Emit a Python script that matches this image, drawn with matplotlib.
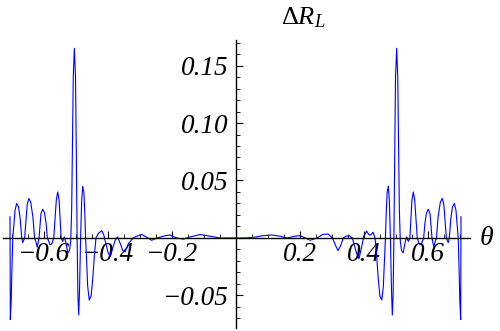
import numpy as np
import matplotlib
matplotlib.use('Agg')
import matplotlib.pyplot as plt
from matplotlib.ticker import MultipleLocator

# curve, left half (theta < 0)
theta_left = [-0.7047, -0.7037, -0.701, -0.699, -0.696, -0.693, -0.689, -0.684, -0.678, -0.673,
              -0.668, -0.665, -0.659, -0.655, -0.651, -0.646, -0.640, -0.633, -0.628, -0.624,
              -0.6197, -0.614, -0.611, -0.608, -0.6025, -0.597, -0.592, -0.588, -0.585, -0.5797,
              -0.574, -0.568, -0.564, -0.560, -0.5556, -0.551, -0.548, -0.545, -0.540, -0.535,
              -0.530, -0.524, -0.519, -0.515, -0.512, -0.5095, -0.507, -0.5037, -0.500, -0.4975,
              -0.495, -0.4925, -0.490, -0.4874, -0.4841, -0.4808, -0.4775, -0.474, -0.471, -0.4685,
              -0.466, -0.462, -0.457, -0.451, -0.446, -0.441, -0.436,
              -0.4287, -0.418, -0.412, -0.405, -0.398, -0.392, -0.385, -0.376,
              -0.368, -0.360, -0.352, -0.345, -0.335, -0.320, -0.305, -0.293, -0.280, -0.262,
              -0.245, -0.220, -0.205, -0.185, -0.163, -0.140, -0.111, -0.080, -0.048, -0.020]
dR_left = [0.0185, -0.071, -0.055, -0.030, 0.0, 0.010, 0.024, 0.030, 0.027, 0.017,
           0.0, -0.004, 0.0, 0.015, 0.029, 0.0345, 0.031, 0.018, 0.0, -0.003,
           -0.008, 0.0, 0.011, 0.021, 0.025, 0.022, 0.013, 0.0, -0.002, -0.006,
           -0.005, 0.0, 0.016, 0.033, 0.040, 0.032, 0.016, 0.0, -0.003, 0.001,
           -0.004, -0.013, -0.011, -0.003, 0.025, 0.080, 0.140, 0.165, 0.140, 0.075,
           0.0, -0.050, -0.067, -0.045, 0.0, 0.032, 0.045, 0.040, 0.022, 0.0,
           -0.015, -0.042, -0.054, -0.050, -0.035, -0.015, 0.0,
           0.004, 0.0063, 0.003, -0.005, -0.013, -0.016, -0.010, -0.002,
           0.001, -0.005, -0.011, -0.012, -0.005, 0.0, 0.002, 0.003, 0.001, -0.002,
           0.0, 0.002, 0.0026, 0.0, -0.001, 0.001, 0.003, 0.0015, 0.0, 0.0]

# right half (theta >= 0)
theta_right = [0.000, 0.030, 0.055, 0.085, 0.114, 0.140, 0.161, 0.185, 0.202, 0.218,
               0.233, 0.255, 0.272, 0.289, 0.303, 0.312, 0.320, 0.328, 0.337, 0.345,
               0.355, 0.365, 0.378, 0.386, 0.394, 0.401, 0.410, 0.416, 0.4225, 0.430,
               0.436, 0.441, 0.446, 0.451, 0.457, 0.462, 0.466, 0.4685, 0.471, 0.474,
               0.4775, 0.4808, 0.4841, 0.4874, 0.490, 0.4925, 0.495, 0.4975, 0.500, 0.5037,
               0.507, 0.5095, 0.512, 0.515, 0.519, 0.524, 0.530, 0.535, 0.540, 0.545,
               0.548, 0.551, 0.5556, 0.560, 0.564, 0.568, 0.574, 0.5797, 0.585, 0.588,
               0.592, 0.597, 0.6025, 0.608, 0.611, 0.614, 0.6197, 0.624, 0.628, 0.633,
               0.640, 0.646, 0.651, 0.655, 0.659, 0.665, 0.668, 0.673, 0.678, 0.684,
               0.689, 0.693, 0.696, 0.699, 0.701, 0.7037, 0.7047]
dR_right = [0.0, 0.0, 0.0005, 0.002, 0.0026, 0.0015, 0.0, 0.0015, 0.002, 0.0,
            -0.002, 0.0, 0.003, 0.0035, 0.0, -0.006, -0.011, -0.007, 0.0, 0.0015,
            0.002, 0.0, -0.013, -0.018, -0.008, 0.002, 0.006, 0.003, 0.0025, 0.005,
            0.0, -0.015, -0.035, -0.050, -0.054, -0.042, -0.015, 0.0, 0.022, 0.040,
            0.045, 0.032, 0.0, -0.045, -0.067, -0.050, 0.0, 0.075, 0.140, 0.165,
            0.140, 0.080, 0.025, -0.003, -0.011, -0.013, -0.004, 0.001, -0.003, 0.0,
            0.016, 0.032, 0.040, 0.033, 0.016, 0.0, -0.005, -0.006, -0.002, 0.0,
            0.013, 0.022, 0.025, 0.021, 0.011, 0.0, -0.008, -0.003, 0.0, 0.018,
            0.031, 0.0345, 0.029, 0.015, 0.0, -0.004, 0.0, 0.017, 0.027, 0.030,
            0.024, 0.010, 0.0, -0.030, -0.055, -0.071, 0.0185]

xticks = [-0.6, -0.4, -0.2, 0.2, 0.4, 0.6]
xticklabels = ['\u22120.6', '\u22120.4', '\u22120.2', '0.2', '0.4', '0.6']
yticks = [-0.05, 0.05, 0.10, 0.15]
yticklabels = ['\u22120.05', '0.05', '0.10', '0.15']

plt.rcParams['mathtext.fontset'] = 'custom'
plt.rcParams['mathtext.rm'] = 'Liberation Serif'
plt.rcParams['mathtext.it'] = 'Liberation Serif:italic'

fig = plt.figure(figsize=(5, 3.31), dpi=100)
ax = fig.add_axes([3 / 500, 3 / 331, 467 / 500, 288 / 331])

ax.plot(theta_left + theta_right, dR_left + dR_right, color='#0000ff', lw=0.8)

ax.set_xlim(-0.7266, 0.7328)
ax.set_ylim(-0.0783, 0.1722)

for s in ['top', 'right']:
    ax.spines[s].set_visible(False)
ax.spines['left'].set_position(('data', 0))
ax.spines['bottom'].set_position(('data', 0))
for s in ['left', 'bottom']:
    ax.spines[s].set_linewidth(1.0)

ax.set_xticks(xticks)
ax.set_xticklabels(xticklabels)
ax.set_yticks(yticks)
ax.set_yticklabels(yticklabels)
ax.xaxis.set_minor_locator(MultipleLocator(0.05))
ax.yaxis.set_minor_locator(MultipleLocator(0.01))
ax.tick_params(which='major', direction='in', length=5, width=0.8)
ax.tick_params(which='minor', direction='in', length=3, width=0.6)
ax.tick_params(axis='x', pad=3)
ax.tick_params(axis='y', pad=5)
for lab in ax.get_xticklabels() + ax.get_yticklabels():
    lab.set_fontfamily('Liberation Serif')
    lab.set_fontstyle('italic')
    lab.set_fontsize(19.5)
ax.patch.set_visible(False)

fig.text(281 / 500, 1 - 24 / 331, r'$\Delta R_L$', fontsize=19, ha='left', va='baseline')
fig.text(479 / 500, 1 - 245 / 331, r'$\theta$', fontsize=20, ha='left', va='baseline')

fig.savefig('out.png', dpi=100)
